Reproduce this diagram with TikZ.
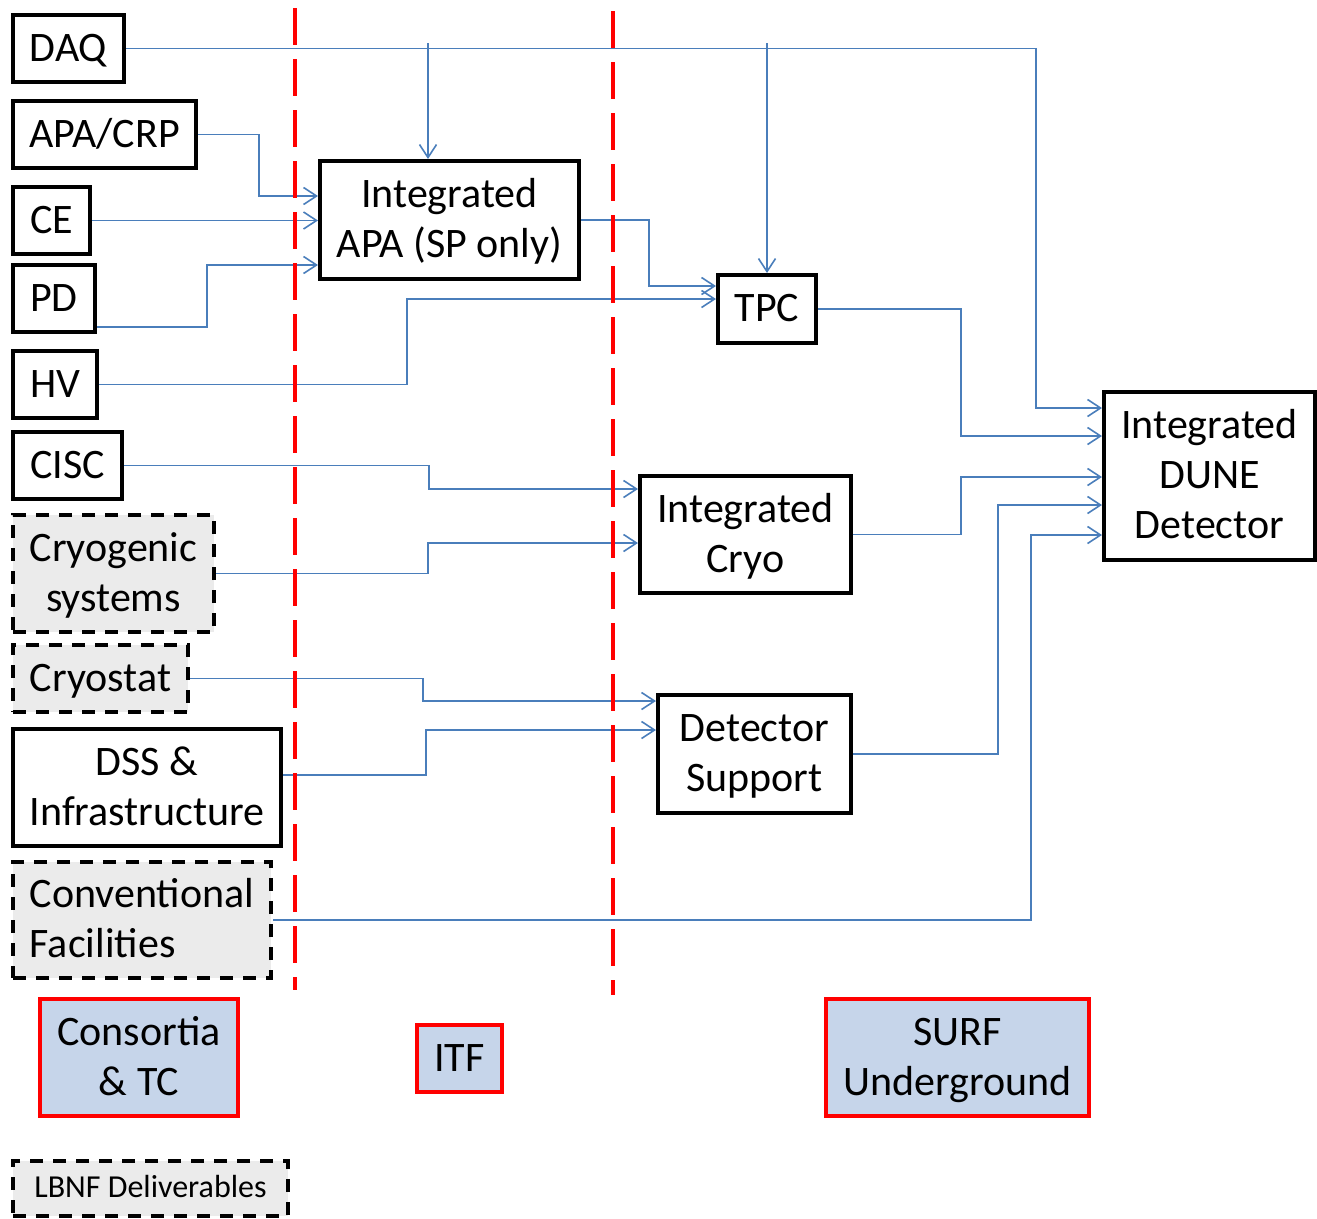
\documentclass[tikz,border=0pt]{standalone}
\usepackage{fontspec}
\setmainfont{Carlito}
\usetikzlibrary{arrows.meta}
\definecolor{connblue}{HTML}{4A7EBB}
\definecolor{lbnfgray}{HTML}{EBEBEB}
\definecolor{sitefill}{HTML}{C6D5EA}
\definecolor{divred}{HTML}{FF0000}
\newcommand{\ts}{\rule[-11pt]{0pt}{47pt}}
\newcommand{\smallstrut}{\rule[-4pt]{0pt}{24.5pt}}
\tikzset{
  box/.style={draw=black, line width=4pt, fill=white, align=center, inner sep=2pt,
    anchor=north west, xshift=-2pt, yshift=2pt, font=\fontsize{42}{50}\selectfont},
  lbnfbox/.style={box, fill=lbnfgray, dash pattern=on 13pt off 10pt},
  sitebox/.style={box, draw=divred, fill=sitefill},
  conn/.style={draw=connblue, line width=1.6pt, -{Straight Barb[length=13pt,width=17pt,line width=1.6pt]}},
  divider/.style={draw=divred, line width=4.5pt, dash pattern=on 37pt off 14pt},
}
\begin{document}
\begin{tikzpicture}[x=1pt,y=-1pt]
\useasboundingbox (0,0) rectangle (1317,1218);
% left column
\node[box, minimum width=111pt, minimum height=67pt] (daq) at (13,15) {\ts DAQ\ts};
\node[box, minimum width=183pt, minimum height=67pt] (apacrp) at (13,101) {\ts APA/CRP\ts};
\node[box, minimum width=77pt, minimum height=67pt] (ce) at (13,187) {\ts CE\ts};
\node[box, minimum width=82pt, minimum height=67pt] (pd) at (13,265) {\ts PD\ts};
\node[box, minimum width=84pt, minimum height=67pt] (hv) at (13,351) {\ts HV\ts};
\node[box, minimum width=109pt, minimum height=67pt] (cisc) at (13,432) {\ts CISC\ts};
\node[lbnfbox, minimum width=201pt, minimum height=117pt] (cryosys) at (13,515) {\ts Cryogenic\\systems\ts};
\node[lbnfbox, minimum width=175pt, minimum height=67pt] (cryostat) at (13,645) {\ts Cryostat\ts};
\node[box, minimum width=268pt, minimum height=117pt] (dss) at (13,729) {\ts DSS \&\\Infrastructure\ts};
\node[lbnfbox, minimum width=258pt, minimum height=116pt, align=left] (conv) at (13,862) {\ts Conventional\\Facilities\ts};
% middle
\node[box, minimum width=259pt, minimum height=118pt] (apa) at (320,161) {\ts Integrated\\APA (SP only)\ts};
\node[box, minimum width=98pt, minimum height=68pt] (tpc) at (718,275) {\ts TPC\ts};
\node[box, minimum width=211pt, minimum height=117pt] (cryo) at (640,476) {\ts Integrated\\Cryo\ts};
\node[box, minimum width=193pt, minimum height=118pt] (detsup) at (658,695) {\ts Detector\\Support\ts};
\node[box, minimum width=211pt, minimum height=168pt] (dune) at (1104,392) {\ts Integrated\\DUNE\\Detector\ts};
% site labels
\node[sitebox, minimum width=198pt, minimum height=117pt] (consortia) at (40,999) {\ts Consortia\\\& TC\ts};
\node[sitebox, minimum width=85pt, minimum height=67pt] (itf) at (417,1025) {\ts ITF\ts};
\node[sitebox, minimum width=263pt, minimum height=117pt] (surf) at (826,999) {\ts SURF\\Underground\ts};
\node[lbnfbox, minimum width=275pt, minimum height=55pt, font=\fontsize{32}{38}\selectfont] (lbnf) at (13,1161) {\smallstrut LBNF Deliverables\smallstrut};
% free ends of the DAQ drops
\coordinate (daqdropA) at (428,43);
\coordinate (daqdropB) at (767,43);
% connectors
\draw[conn] (daq.east) -| (1036,408) -- (dune.west |- 0,408);
\draw[conn] (daqdropA) -- (apa.north -| 428,0);
\draw[conn] (daqdropB) -- (tpc.north);
\draw[conn] (apacrp.east) -| (259,196) -- (apa.west |- 0,196);
\draw[conn] (ce.east) -- (apa.west |- ce.east);
\draw[conn] (pd.east |- 0,327) -| (207,265) -- (apa.west |- 0,265);
\draw[conn] (apa.east) -| (649,286) -- (tpc.west |- 0,286);
\draw[conn] (hv.east) -| (407,299) -- (tpc.west |- 0,299);
\draw[conn] (tpc.east) -| (961,436) -- (dune.west |- 0,436);
\draw[conn] (cisc.east) -| (429,489) -- (cryo.west |- 0,489);
\draw[conn] (cryosys.east) -| (428,543) -- (cryo.west |- 0,543);
\draw[conn] (cryo.east) -| (961,477) -- (dune.west |- 0,477);
\draw[conn] (cryostat.east) -| (423,701) -- (detsup.west |- 0,701);
\draw[conn] (dss.east |- 0,775) -| (426,730) -- (detsup.west |- 0,730);
\draw[conn] (detsup.east) -| (998,505) -- (dune.west |- 0,505);
\draw[conn] (conv.east) -| (1031,535) -- (dune.west |- 0,535);
% dividers
\draw[divider] (295,8) -- (295,990);
\draw[divider] (613,11) -- (613,995);
\end{tikzpicture}
\end{document}
